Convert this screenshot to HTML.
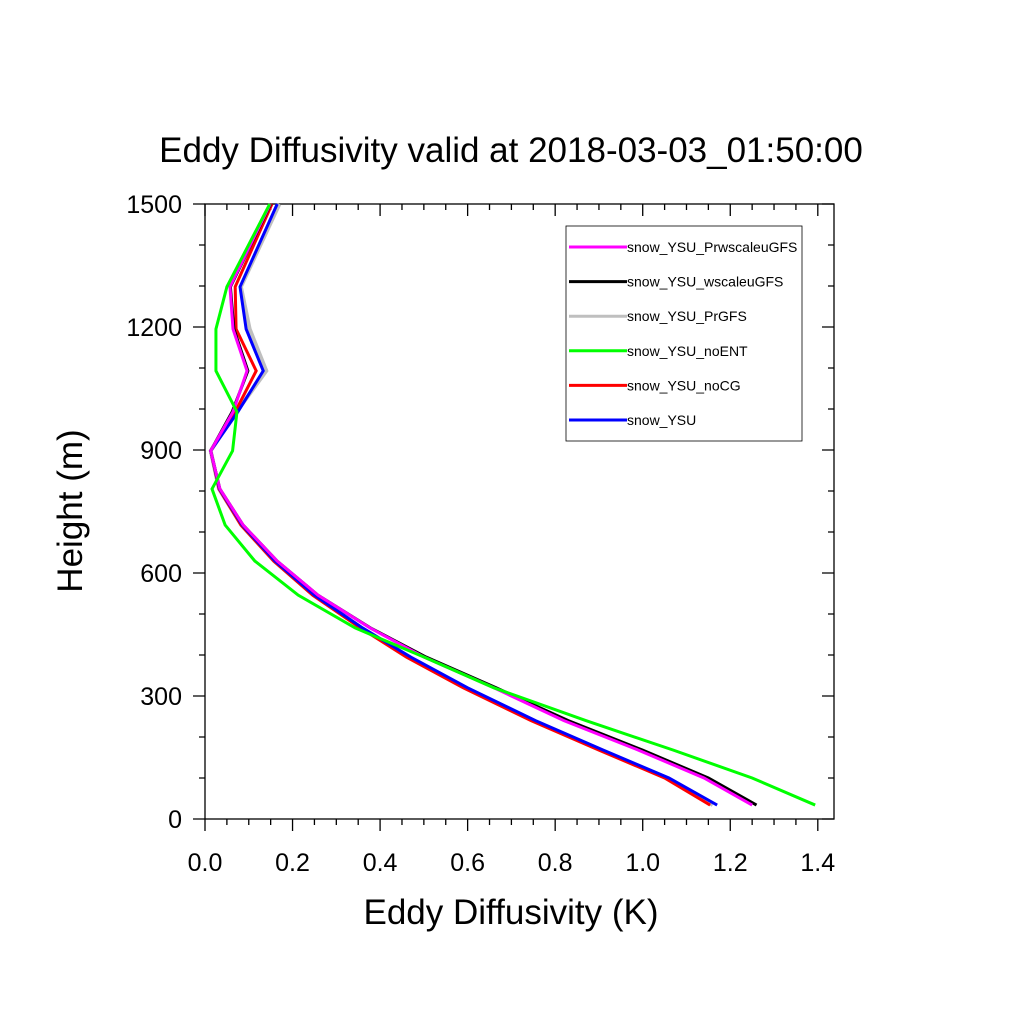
<!DOCTYPE html>
<html><head><meta charset="utf-8"><style>
body{margin:0;background:#fff;}
svg text{font-family:"Liberation Sans",sans-serif;}
</style></head><body>
<svg id="chart" width="1024" height="1024" xmlns="http://www.w3.org/2000/svg">
<rect width="1024" height="1024" fill="#fff"/>
<text x="511" y="162" font-size="35" text-anchor="middle">Eddy Diffusivity valid at 2018-03-03_01:50:00</text>
<text x="511" y="924" font-size="35" text-anchor="middle">Eddy Diffusivity (K)</text>
<text transform="translate(82,511) rotate(-90)" font-size="35" text-anchor="middle">Height (m)</text>
<g id="axes"></g>
<g id="series"></g>
<g id="legend"></g>
</svg>
<script>
const heights=[34,100,168,240,320,395,466,546,629,717,805,898,993,1093,1195,1298,1500];
const sMagenta=[1.25,1.14,0.99,0.82,0.66,0.50,0.377,0.258,0.165,0.087,0.034,0.013,0.064,0.096,0.064,0.057,0.149];
const sBlack=[1.26,1.15,1.00,0.83,0.665,0.505,0.378,0.258,0.165,0.087,0.034,0.013,0.062,0.098,0.066,0.058,0.150];
const sGray=[1.16,1.055,0.905,0.75,0.595,0.465,0.358,0.248,0.158,0.083,0.032,0.013,0.072,0.14,0.102,0.082,0.17];
const sGreen=[1.394,1.25,1.07,0.87,0.66,0.50,0.343,0.213,0.114,0.046,0.016,0.063,0.073,0.025,0.025,0.050,0.148];
const sRed=[1.154,1.05,0.90,0.745,0.59,0.46,0.355,0.246,0.157,0.082,0.032,0.013,0.069,0.117,0.071,0.069,0.153];
const sBlue=[1.17,1.06,0.91,0.755,0.60,0.47,0.36,0.25,0.16,0.085,0.033,0.013,0.075,0.133,0.094,0.080,0.165];
const seriesNames=["snow_YSU_PrwscaleuGFS","snow_YSU_wscaleuGFS","snow_YSU_PrGFS","snow_YSU_noENT","snow_YSU_noCG","snow_YSU"];
const xTicks=[0,0.2,0.4,0.6,0.8,1.0,1.2,1.4];
const xTickLabels=["0.0","0.2","0.4","0.6","0.8","1.0","1.2","1.4"];
const yTicks=[0,300,600,900,1200,1500];
const yTickLabels=["0","300","600","900","1200","1500"];

const L=205,R=834,T=204,B=819,XMAX=1.437,YMAX=1500;
const X=v=>L+v/XMAX*(R-L);
const Y=v=>B-v/YMAX*(B-T);
const NS="http://www.w3.org/2000/svg";
function mk(tag,attrs,parent){const e=document.createElementNS(NS,tag);for(const k in attrs)e.setAttribute(k,attrs[k]);parent.appendChild(e);return e;}
const axes=document.getElementById('axes');
const frame=mk('rect',{x:L,y:T,width:R-L,height:B-T,fill:'none',stroke:'#000','stroke-width':1.3},axes);


let d='';
for(let v=0;v<=XMAX+1e-9;v+=0.05){const maj=Math.abs(v/0.2-Math.round(v/0.2))<1e-6;const len=maj?12:6;const x=X(v);
 d+=`M${x},${B}v${len}M${x},${T}v${len}`;}
for(let v=0;v<=YMAX;v+=100){const maj=v%300===0;const len=maj?12:6;const y=Y(v);
 d+=`M${L},${y}h${-len}M${R},${y}h${-len}`;}
const tk=mk('path',{d:d,stroke:'#000','stroke-width':1.3,fill:'none'},axes);


xTicks.forEach((v,i)=>{const t=mk('text',{x:X(v),y:871,'font-size':25,'text-anchor':'middle'},axes);t.textContent=xTickLabels[i];
 
 });
yTicks.forEach((v,i)=>{const t=mk('text',{x:182,y:Y(v)+9,'font-size':25,'text-anchor':'end'},axes);t.textContent=yTickLabels[i];
 
 });

const colors=["#ff00ff","#000000","#bfbfbf","#00ff00","#ff0000","#0000ff"];
const data=[sMagenta,sBlack,sGray,sGreen,sRed,sBlue];
const drawOrder=[2,4,5,1,0,3];
const widths=[3,3,4,3,3,3];
const sg=document.getElementById('series');
drawOrder.forEach(i=>{const pts=data[i].map((v,j)=>X(v)+','+Y(heights[j])).join(' ');
 const p=mk('polyline',{points:pts,fill:'none',stroke:colors[i],'stroke-width':widths[i],'stroke-linejoin':'miter'},sg);
 
 });
const lg=document.getElementById('legend');
const lb=mk('rect',{x:566,y:226,width:236,height:215,fill:'#fff',stroke:'#000','stroke-width':0.8},lg);


seriesNames.forEach((n,i)=>{const y=247+i*34.6;
 const g=mk('g',{},lg);
 
 
 mk('line',{x1:569,x2:627,y1:y,y2:y,stroke:colors[i],'stroke-width':3},g);
 const t=mk('text',{x:627,y:y+5,'font-size':14},g);t.textContent=n;});
</script>
</body></html>
